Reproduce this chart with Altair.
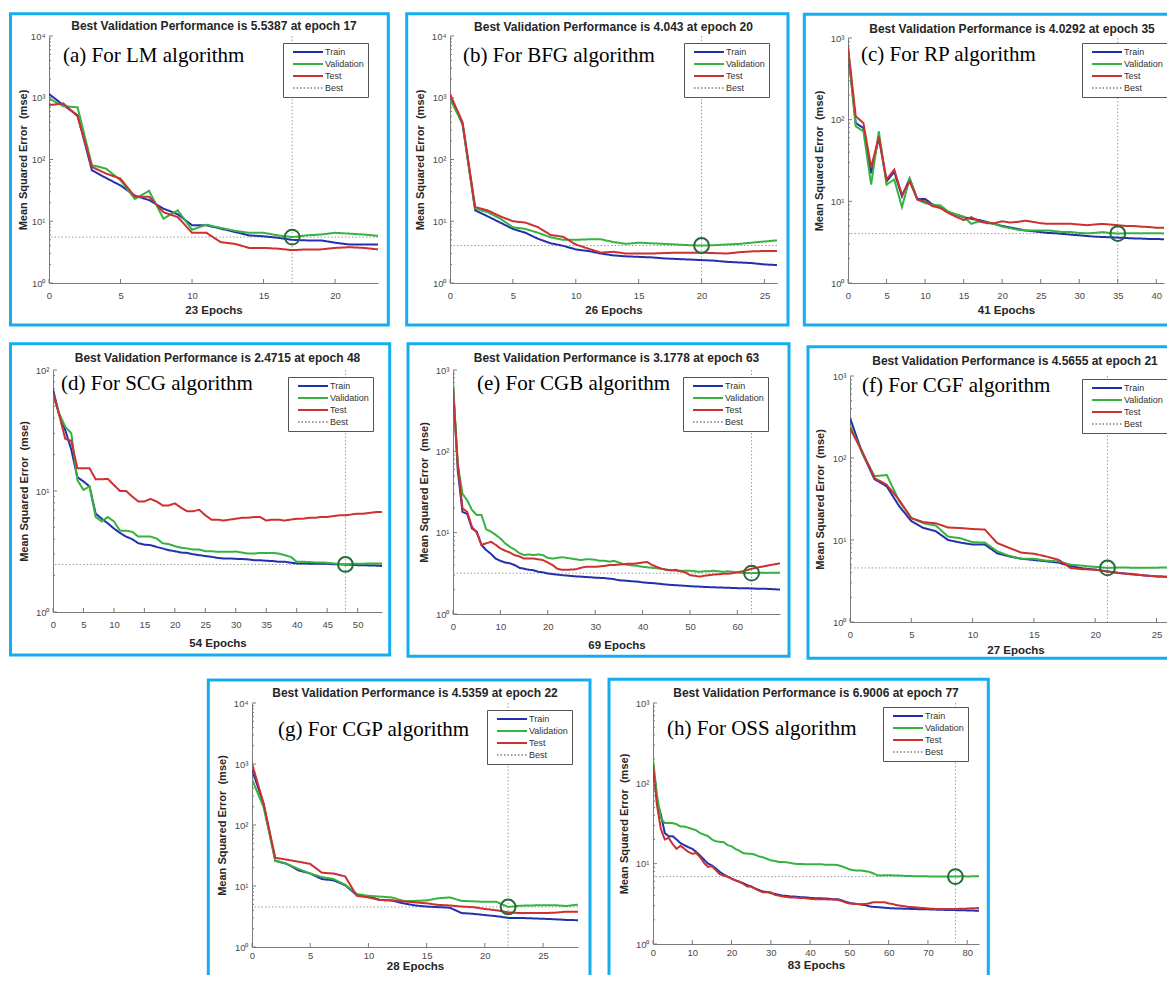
import altair as alt
import pandas as pd

# ---------------- values ----------------
panel_labels = ["(a) For LM algorithm", "(b) For BFG algorithm", "(c) For RP algorithm",
                "(d) For SCG algorithm", "(e) For CGB algorithm", "(f) For CGF algorithm",
                "(g) For CGP algorithm", "(h) For OSS algorithm"]
epochs_total = [23, 26, 41, 54, 69, 27, 28, 83]
best_epoch = [17, 20, 35, 48, 63, 21, 22, 77]
best_value = [5.5387, 4.043, 4.0292, 2.4715, 3.1778, 4.5655, 4.5359, 6.9006]
best_text = ["5.5387", "4.043", "4.0292", "2.4715", "3.1778", "4.5655", "4.5359", "6.9006"]
y_decades = [4, 4, 3, 2, 3, 3, 4, 3]
x_tick_values = [
    [0, 5, 10, 15, 20],
    [0, 5, 10, 15, 20, 25],
    [0, 5, 10, 15, 20, 25, 30, 35, 40],
    [0, 5, 10, 15, 20, 25, 30, 35, 40, 45, 50],
    [0, 10, 20, 30, 40, 50, 60],
    [0, 5, 10, 15, 20, 25],
    [0, 5, 10, 15, 20, 25],
    [0, 10, 20, 30, 40, 50, 60, 70, 80],
]
series_names = ["Train", "Validation", "Test", "Best"]

a_train = [1150, 760, 520, 67, 50, 38, 26, 22, 16, 13, 8.6, 8.6, 7.6, 6.7, 5.9, 5.7, 5.4, 5.0, 4.9, 4.9, 4.5, 4.2, 4.2, 4.2]
a_val = [970, 730, 700, 81, 71, 46, 23, 31, 11, 15, 7.3, 8.8, 7.8, 7.0, 6.5, 6.5, 5.9, 5.5387, 5.9, 6.1, 6.5, 6.3, 6.1, 5.8]
a_test = [760, 810, 500, 76, 59, 49, 25, 25, 14, 11.7, 6.5, 6.5, 4.6, 4.3, 3.7, 3.7, 3.6, 3.4, 3.5, 3.5, 3.7, 3.8, 3.7, 3.5]

b_train = [1100, 370, 15, 12, 9.5, 7.5, 6.5, 5.2, 4.4, 4.0, 3.5, 3.3, 3.0, 2.8, 2.7, 2.65, 2.6, 2.5, 2.45, 2.4, 2.35, 2.3, 2.2, 2.15, 2.1, 2.0, 1.95]
b_val = [950, 380, 16, 14, 11, 8, 7.5, 6.5, 5.5, 5.0, 5.0, 5.1, 5.1, 4.6, 4.3, 4.5, 4.4, 4.3, 4.2, 4.1, 4.043, 4.1, 4.2, 4.3, 4.5, 4.7, 4.9]
b_test = [1150, 400, 17, 15, 12, 10, 9.5, 8, 6, 5.6, 4.2, 3.6, 3.1, 3.2, 3.0, 3.0, 3.0, 3.05, 3.1, 3.1, 3.1, 3.05, 3.0, 3.15, 3.25, 3.3, 3.3]

c_train = [690, 91, 79, 22, 60, 17.5, 23, 11.5, 19, 10.7, 10.7, 9.1, 8.3, 7.4, 6.9, 6.4, 6.1, 5.9, 5.6, 5.3, 5.0,
           4.8, 4.6, 4.4, 4.3, 4.2, 4.1, 4.06, 3.98, 3.9, 3.84, 3.76, 3.7, 3.66, 3.63, 3.6, 3.56, 3.52, 3.5, 3.46, 3.46, 3.43]
c_val = [750, 83, 72, 16, 72, 16, 18.5, 8.5, 19, 10.5, 9.5, 9.1, 8.9, 7.5, 6.9, 6.5, 5.3, 5.7, 5.5, 5.3, 4.9,
         4.7, 4.5, 4.4, 4.4, 4.4, 4.4, 4.3, 4.2, 4.2, 4.1, 4.06, 4.1, 4.2, 4.1, 4.0292, 4.06, 4.08, 4.05, 4.07, 4.06, 4.05]
c_test = [790, 110, 91, 26, 62, 18.5, 24.5, 12, 17.5, 10.5, 10, 8.7, 8.3, 7.2, 6.5, 5.9, 6.4, 5.7, 5.4, 5.4, 5.7,
          5.5, 5.6, 5.8, 5.6, 5.4, 5.3, 5.3, 5.3, 5.3, 5.2, 5.1, 5.2, 5.3, 5.2, 5.1, 5.0, 5.0, 4.9, 4.85, 4.75, 4.75]

d_train = [69, 43, 32, 22, 13, 12, 10.9, 6.5, 5.9, 5.4, 4.9, 4.5, 4.2, 4.0, 3.7, 3.6, 3.57, 3.45, 3.35, 3.24, 3.18,
           3.1, 3.08, 3.0, 2.95, 2.9, 2.86, 2.8, 2.77, 2.77, 2.75, 2.74, 2.72, 2.68, 2.68, 2.65, 2.64, 2.6, 2.6, 2.56,
           2.52, 2.52, 2.51, 2.51, 2.5, 2.5, 2.48, 2.48, 2.46, 2.46, 2.44, 2.44, 2.42, 2.42, 2.4]
d_val = [61, 44, 34, 30, 12.3, 10.2, 10.9, 6.1, 5.6, 6.1, 5.6, 4.7, 4.7, 4.6, 4.2, 4.2, 4.2, 4.05, 3.7, 3.64, 3.5,
         3.4, 3.35, 3.28, 3.28, 3.18, 3.18, 3.14, 3.14, 3.14, 3.16, 3.1, 3.04, 3.04, 3.08, 3.08, 3.08, 3.04, 2.95, 2.86,
         2.6, 2.6, 2.59, 2.57, 2.57, 2.55, 2.52, 2.49, 2.4715, 2.5, 2.51, 2.51, 2.52, 2.52, 2.52]
d_test = [65, 43, 27, 26, 15.4, 15.4, 15.4, 12.5, 12.5, 12.6, 11.2, 10, 10, 9.0, 8.2, 8.2, 8.6, 8.2, 7.6, 7.6, 7.9,
          7.3, 6.8, 6.8, 7.0, 6.3, 5.8, 5.8, 5.7, 5.8, 5.9, 6.0, 6.0, 6.1, 6.1, 5.7, 5.8, 5.8, 5.7, 5.8,
          5.9, 5.9, 6.0, 6.0, 6.1, 6.1, 6.2, 6.3, 6.3, 6.4, 6.5, 6.5, 6.6, 6.7, 6.7]

e_train = [660, 59, 18, 17, 11.3, 10.3, 7.1, 6.1, 5.5, 4.8, 4.5, 4.3, 4.2, 4.0, 3.7, 3.6, 3.5, 3.45, 3.3, 3.25,
           3.15, 3.1, 3.05, 3.0, 2.97, 2.93, 2.9, 2.88, 2.85, 2.83, 2.8, 2.78, 2.76, 2.72, 2.68, 2.6, 2.58, 2.55, 2.52, 2.5,
           2.45, 2.42, 2.4, 2.37, 2.34, 2.3, 2.28, 2.26, 2.24, 2.22, 2.2, 2.18, 2.17, 2.15, 2.14, 2.13, 2.12, 2.11, 2.1, 2.09,
           2.08, 2.07, 2.07, 2.06, 2.05, 2.05, 2.04, 2.03, 2.01, 2.0]
e_val = [700, 70, 30, 25, 19, 16.5, 16.5, 11, 10.3, 9.4, 8.5, 7.4, 6.7, 6.2, 5.6, 5.3, 5.4, 5.3, 5.4, 5.3,
         4.9, 4.8, 4.9, 5.0, 4.9, 4.8, 4.7, 4.6, 4.7, 4.7, 4.65, 4.5, 4.5, 4.4, 4.5, 4.3, 4.1, 4.0, 3.95, 3.9,
         3.8, 3.75, 3.7, 3.65, 3.6, 3.5, 3.45, 3.4, 3.4, 3.4, 3.4, 3.35, 3.3, 3.35, 3.35, 3.4, 3.35, 3.3, 3.35, 3.3,
         3.25, 3.2, 3.19, 3.1778, 3.2, 3.22, 3.2, 3.21, 3.22, 3.22]
e_test = [580, 71, 20, 18, 11.8, 10, 7.1, 7.4, 7.7, 7.1, 6.4, 6.0, 5.7, 5.3, 5.1, 4.8, 4.8, 4.8, 4.7, 4.6,
          4.3, 4.0, 3.6, 3.5, 3.5, 3.52, 3.55, 3.7, 3.8, 3.8, 3.8, 3.85, 3.9, 4.0, 4.0, 4.05, 4.1, 4.15, 4.15, 4.2,
          4.3, 4.35, 4.0, 3.8, 3.6, 3.5, 3.45, 3.5, 3.35, 3.25, 3.0, 2.95, 2.88, 2.95, 3.0, 3.05, 3.08, 3.12, 3.12, 3.18,
          3.25, 3.35, 3.45, 3.6, 3.7, 3.8, 3.9, 4.0, 4.1, 4.2]

f_train = [308, 115, 55, 45, 26, 17, 14, 12.8, 10, 9.3, 8.8, 8.8, 6.9, 6.3, 5.9, 5.7, 5.5, 5.3, 4.8, 4.5,
           4.35, 4.15, 3.95, 3.85, 3.7, 3.6, 3.55, 3.5]
f_val = [250, 115, 60, 62, 30, 18.5, 16, 15, 11, 10.5, 9.4, 9.3, 7.3, 6.4, 5.9, 5.9, 5.6, 5.5, 5.0, 4.85,
         4.7, 4.5655, 4.62, 4.6, 4.58, 4.6, 4.62, 4.62]
f_test = [230, 120, 57, 47, 31, 18.5, 16.5, 16, 14.2, 14, 13.6, 13.4, 9.2, 8, 7.0, 6.8, 6.3, 5.75, 4.55, 4.4,
          4.35, 4.1, 3.95, 3.8, 3.7, 3.6, 3.55, 3.5]

g_train = [810, 222, 26, 23, 18, 16, 13, 12.4, 10.3, 7.1, 6.7, 5.9, 5.8, 5.2, 4.8, 4.6, 4.5, 4.4, 3.6, 3.5,
           3.34, 3.2, 3.0, 3.0, 2.95, 2.9, 2.85, 2.78, 2.75]
g_val = [560, 195, 26, 23, 19, 16, 14, 13, 10.5, 7.4, 6.9, 6.7, 6.5, 5.7, 5.7, 5.8, 6.3, 6.5, 5.7, 5.6,
         5.5, 5.5, 4.5359, 4.75, 4.8, 4.85, 4.85, 4.7, 4.95]
g_test = [1020, 222, 29, 27, 25, 23, 16.5, 16, 14.4, 6.9, 6.5, 5.9, 5.8, 5.6, 5.4, 5.2, 4.9, 4.8, 4.6, 4.5,
          4.2, 4.0, 3.7, 3.6, 3.6, 3.6, 3.65, 3.8, 3.8]

h_train = [160, 60, 41, 24, 22, 22, 20, 18, 17, 16, 15.3, 14, 12.6, 11.2, 10, 9.5, 8.7, 7.9, 7.3, 6.9,
           6.5, 6.2, 5.95, 5.7, 5.4, 5.2, 4.9, 4.7, 4.5, 4.45, 4.3, 4.2, 4.1, 4.0, 3.97, 3.9, 3.9, 3.85, 3.82, 3.8,
           3.75, 3.73, 3.7, 3.7, 3.68, 3.65, 3.6, 3.6, 3.5, 3.35, 3.25, 3.2, 3.15, 3.1, 3.05, 2.95, 2.9, 2.88, 2.85, 2.83,
           2.8, 2.78, 2.77, 2.76, 2.75, 2.74, 2.73, 2.72, 2.71, 2.7, 2.7, 2.69, 2.68, 2.67, 2.66, 2.65, 2.65, 2.64, 2.63, 2.63,
           2.62, 2.61, 2.6, 2.6]
h_val = [200, 72, 37, 32, 32, 32, 31, 29, 29, 28, 27, 26, 24, 23, 22, 20, 19, 18.7, 18.5, 17,
         16.5, 15.2, 14.5, 13.5, 13.3, 13.3, 12.9, 12.3, 12.0, 11.5, 11, 10.8, 10.5, 10.5, 10.4, 10.2, 10.0, 9.9, 9.9, 9.8,
         9.8, 9.8, 9.8, 9.8, 9.7, 9.7, 9.7, 9.6, 9.3, 8.9, 8.5, 8.3, 8.2, 8.2, 8.1, 7.9, 7.6, 7.2, 7.1, 7.2,
         7.2, 7.15, 7.1, 7.1, 7.05, 7.0, 7.0, 6.98, 6.96, 6.95, 6.95, 6.94, 6.93, 6.93, 6.92, 6.92, 6.91, 6.9006, 6.95, 6.98,
         6.93, 6.95, 6.97, 7.0]
h_test = [175, 54, 27, 20, 21, 17.5, 15.3, 16.7, 15.3, 14, 13.3, 13.5, 12, 10.2, 9.1, 9.3, 8.3, 7.4, 7.1, 6.9,
          6.5, 6.2, 5.95, 5.6, 5.2, 5.2, 4.9, 4.6, 4.4, 4.4, 4.4, 4.1, 4.0, 3.9, 3.85, 3.8, 3.8, 3.75, 3.75, 3.7,
          3.65, 3.62, 3.6, 3.6, 3.6, 3.58, 3.57, 3.55, 3.45, 3.3, 3.2, 3.15, 3.15, 3.12, 3.15, 3.2, 3.3, 3.32, 3.32, 3.3,
          3.2, 3.15, 3.05, 3.0, 2.95, 2.9, 2.88, 2.85, 2.82, 2.8, 2.77, 2.75, 2.73, 2.72, 2.72, 2.72, 2.72, 2.73, 2.74, 2.75,
          2.76, 2.78, 2.79, 2.8]

train_all = [a_train, b_train, c_train, d_train, e_train, f_train, g_train, h_train]
val_all = [a_val, b_val, c_val, d_val, e_val, f_val, g_val, h_val]
test_all = [a_test, b_test, c_test, d_test, e_test, f_test, g_test, h_test]

# ---------------- layout & style (page pixel positions) ----------------
ROW_TOP = [36, 370, 703]          # top of the plot areas of each row (page px)
PANEL_ROW = [0, 0, 0, 1, 1, 1, 2, 2]
LAYOUT = [
    dict(cell=(9, 8, 398, 334), border=(10.5, 13.7, 388.3, 325), plot=(49, 36, 329, 247),
         label=(63, 62), title=(214, 29.5), legend=(283, 43), lp=7, xtp=4.5, ytp=2),
    dict(cell=(398, 8, 796, 334), border=(406.7, 13.7, 788, 325), plot=(450, 36, 327, 247),
         label=(463, 62), title=(613.5, 31), legend=(684, 43), lp=7, xtp=5, ytp=5.5),
    dict(cell=(796, 8, 1200, 334), border=(804.3, 14.3, 1195, 325), plot=(848, 38, 316, 245),
         label=(861, 61), title=(1012, 32.5), legend=(1082, 43), lp=7, xtp=5, ytp=5.5),
    dict(cell=(9, 334, 398, 668), border=(10.5, 343.7, 389.7, 655), plot=(53, 370, 329, 242),
         label=(61, 390), title=(217.5, 362.3), legend=(288, 377), lp=7, xtp=8.5, ytp=5.5),
    dict(cell=(398, 334, 798, 668), border=(408, 343.7, 789, 656.3), plot=(453, 370, 327, 244),
         label=(477, 390), title=(616.5, 362.3), legend=(683, 377), lp=7, xtp=8.5, ytp=5.5),
    dict(cell=(798, 334, 1200, 668), border=(808, 346.7, 1195, 658.3), plot=(850, 376, 331, 246),
         label=(862, 392), title=(1015, 364.7), legend=(1082, 379), lp=7, xtp=5.5, ytp=7),
    dict(cell=(9, 668, 599, 1010), border=(208.3, 680, 590, 1005), plot=(252, 703, 326, 244),
         label=(278, 736), title=(415, 697), legend=(487, 710), lp=3, xtp=1, ytp=6),
    dict(cell=(599, 668, 995, 1010), border=(609, 679.2, 988.3, 1005), plot=(653, 703, 326, 241),
         label=(667, 735), title=(816, 697), legend=(883, 707), lp=3, xtp=3, ytp=6),
]
CANVAS_W, CANVAS_H = 1159, 967   # visible window of the figure (everything beyond is cut, as in the image)
PAGE = 8

FONT = "Liberation Sans"
SERIF = "Liberation Serif"
BORDER = "#14aef0"
COLORS = ["#2230ad", "#35b240", "#cc3030", "#9c9c9c"]
DASHES = [[1, 0], [1, 0], [1, 0], [1.5, 2]]
CIRCLE = "#256a38"
AXIS = "#7a7a7a"
SUP = ("datum.value < 3 ? '10⁰' : datum.value < 30 ? '10¹' : datum.value < 300 ? '10²' : "
       "datum.value < 3000 ? '10³' : '10⁴'")


def make_panel(i):
    L = LAYOUT[i]
    n = epochs_total[i]
    dec = y_decades[i]
    train, val, test = train_all[i], val_all[i], test_all[i]
    assert len(train) == n + 1 and len(val) == n + 1 and len(test) == n + 1, i
    cx0, cy0, cx1, cy1 = L["cell"]
    bx0, by0, bx1, by1 = L["border"]
    px, py, w, h = L["plot"]
    oy = ROW_TOP[PANEL_ROW[i]]     # group origin (shared by the row)
    dy = py - oy
    H = h + dy

    ep = list(range(n + 1))
    df = pd.DataFrame({
        "epoch": ep * 3,
        "mse": train + val + test,
        "series": ["Train"] * (n + 1) + ["Validation"] * (n + 1) + ["Test"] * (n + 1),
    })
    best_df = pd.DataFrame({"epoch": [best_epoch[i]], "mse": [best_value[i]], "series": ["Best"]})
    majors = [10 ** k for k in range(dec + 1)]
    minors = [m * 10 ** k for k in range(dec) for m in range(2, 10)]

    xsc = alt.Scale(domain=[0, n], nice=False, zero=False)
    ysc = alt.Scale(type="log", domain=[1, 10 ** dec], nice=False, range=[H, dy])
    xax = alt.Axis(title=f"{n} Epochs", values=x_tick_values[i], labelFlush=False, ticks=False,
                   tickSize=0, labelPadding=L["lp"], titlePadding=L["xtp"], grid=False,
                   titleFontSize=11.5)
    yax = alt.Axis(title="Mean Squared Error\u00a0 (mse)", values=majors, labelExpr=SUP,
                   ticks=False, tickSize=0, labelPadding=4, titlePadding=L["ytp"], grid=False,
                   titleFontSize=11)

    def X(f):
        return alt.X(f, type="quantitative", scale=xsc, axis=xax)

    def Y(f):
        return alt.Y(f, type="quantitative", scale=ysc, axis=yax)

    leg = alt.Legend(title=None, orient="none", legendX=L["legend"][0] - px,
                     legendY=L["legend"][1] - oy, symbolType="M-3.75,0H3.75", symbolSize=64,
                     symbolStrokeWidth=2, symbolOffset=16, labelOffset=12, padding=4,
                     rowPadding=2, labelFontSize=9, labelFont=FONT, labelColor="#333333",
                     strokeColor="#555555", fillColor="white", cornerRadius=0, labelLimit=120)
    col = alt.Color("series:N", scale=alt.Scale(domain=series_names, range=COLORS), legend=leg)
    dash = alt.StrokeDash("series:N", scale=alt.Scale(domain=series_names, range=DASHES), legend=leg)

    one = pd.DataFrame({"k": [0]})
    spacer = alt.Chart(one).mark_rect(opacity=0).encode(
        x=alt.value(cx0 - px), x2=alt.value(cx1 - px), y=alt.value(cy0 - oy), y2=alt.value(cy1 - oy))
    border = alt.Chart(one).mark_rect(fillOpacity=0, stroke=BORDER, strokeWidth=3).encode(
        x=alt.value(bx0 - px), x2=alt.value(bx1 - px), y=alt.value(by0 - oy), y2=alt.value(by1 - oy))

    vrule = alt.Chart(best_df).mark_rule(strokeWidth=1).encode(
        x=X("epoch"), y=alt.value(dy), y2=alt.value(H), color=col, strokeDash=dash)
    hrule = alt.Chart(best_df).mark_rule(strokeWidth=1).encode(y=Y("mse"), color=col, strokeDash=dash)
    lines = alt.Chart(df).mark_line(strokeWidth=2, clip=True).encode(
        x=X("epoch"), y=Y("mse"), color=col, strokeDash=dash)
    circ = alt.Chart(best_df).mark_point(shape="circle", filled=False, size=220, strokeWidth=2,
                                         color=CIRCLE, opacity=1).encode(x=X("epoch"), y=Y("mse"))

    xt = alt.Chart(pd.DataFrame({"tick": x_tick_values[i]})).mark_rule(color=AXIS, strokeWidth=1).encode(
        x=X("tick"), y=alt.value(H), y2=alt.value(H - 4))
    ymaj = alt.Chart(pd.DataFrame({"tick": majors})).mark_rule(color=AXIS, strokeWidth=1).encode(
        y=Y("tick"), x=alt.value(0), x2=alt.value(4))
    ymin = alt.Chart(pd.DataFrame({"tick": minors})).mark_rule(color=AXIS, strokeWidth=1).encode(
        y=Y("tick"), x=alt.value(0), x2=alt.value(2))

    ttl = f"Best Validation Performance is {best_text[i]} at epoch {best_epoch[i]}"
    title = alt.Chart(pd.DataFrame({"t": [ttl]})).mark_text(
        align="center", baseline="alphabetic", font=FONT, fontSize=12, fontWeight="bold",
        color="#262626").encode(x=alt.value(L["title"][0] - px), y=alt.value(L["title"][1] - oy), text="t:N")
    label = alt.Chart(pd.DataFrame({"t": [panel_labels[i]]})).mark_text(
        align="left", baseline="alphabetic", font=SERIF, fontSize=21, color="black").encode(
        x=alt.value(L["label"][0] - px), y=alt.value(L["label"][1] - oy), text="t:N")

    return alt.layer(spacer, border, hrule, vrule, lines, circ, xt, ymaj, ymin, title, label).properties(
        width=w, height=H)


def anchor():
    # (almost) zero-size first cell so every row starts at the left edge of the page
    return alt.Chart(pd.DataFrame({"k": [0]})).mark_rect(opacity=0).encode(
        x=alt.value(0), x2=alt.value(0), y=alt.value(0), y2=alt.value(0)).properties(width=0.01, height=0.01)


def row(*charts):
    return (alt.hconcat(anchor(), *charts, spacing=0)
            .resolve_scale(color="independent", strokeDash="independent")
            .resolve_legend(color="independent", strokeDash="independent"))


panels = [make_panel(i) for i in range(8)]
top_pad = ROW_TOP[0] - PAGE - (LAYOUT[0]["cell"][1] - PAGE)
chart = (
    alt.vconcat(row(panels[0], panels[1], panels[2]),
                row(panels[3], panels[4], panels[5]),
                row(panels[6], panels[7]), spacing=0)
    .resolve_scale(color="independent", strokeDash="independent")
    .resolve_legend(color="independent", strokeDash="independent")
    .properties(autosize=alt.AutoSizeParams(type="none"),
                padding={"left": 0, "top": top_pad, "right": CANVAS_W, "bottom": CANVAS_H - top_pad},
                background="white")
    .configure_view(stroke="transparent", strokeWidth=0)
    .configure_axis(labelFont=FONT, titleFont=FONT, labelFontSize=9.5, titleFontWeight="bold",
                    labelColor="#4a4a4a", titleColor="#262626", domainColor=AXIS, domainWidth=1)
)

chart.save("out.html", embed_options={"renderer": "svg", "actions": False})
